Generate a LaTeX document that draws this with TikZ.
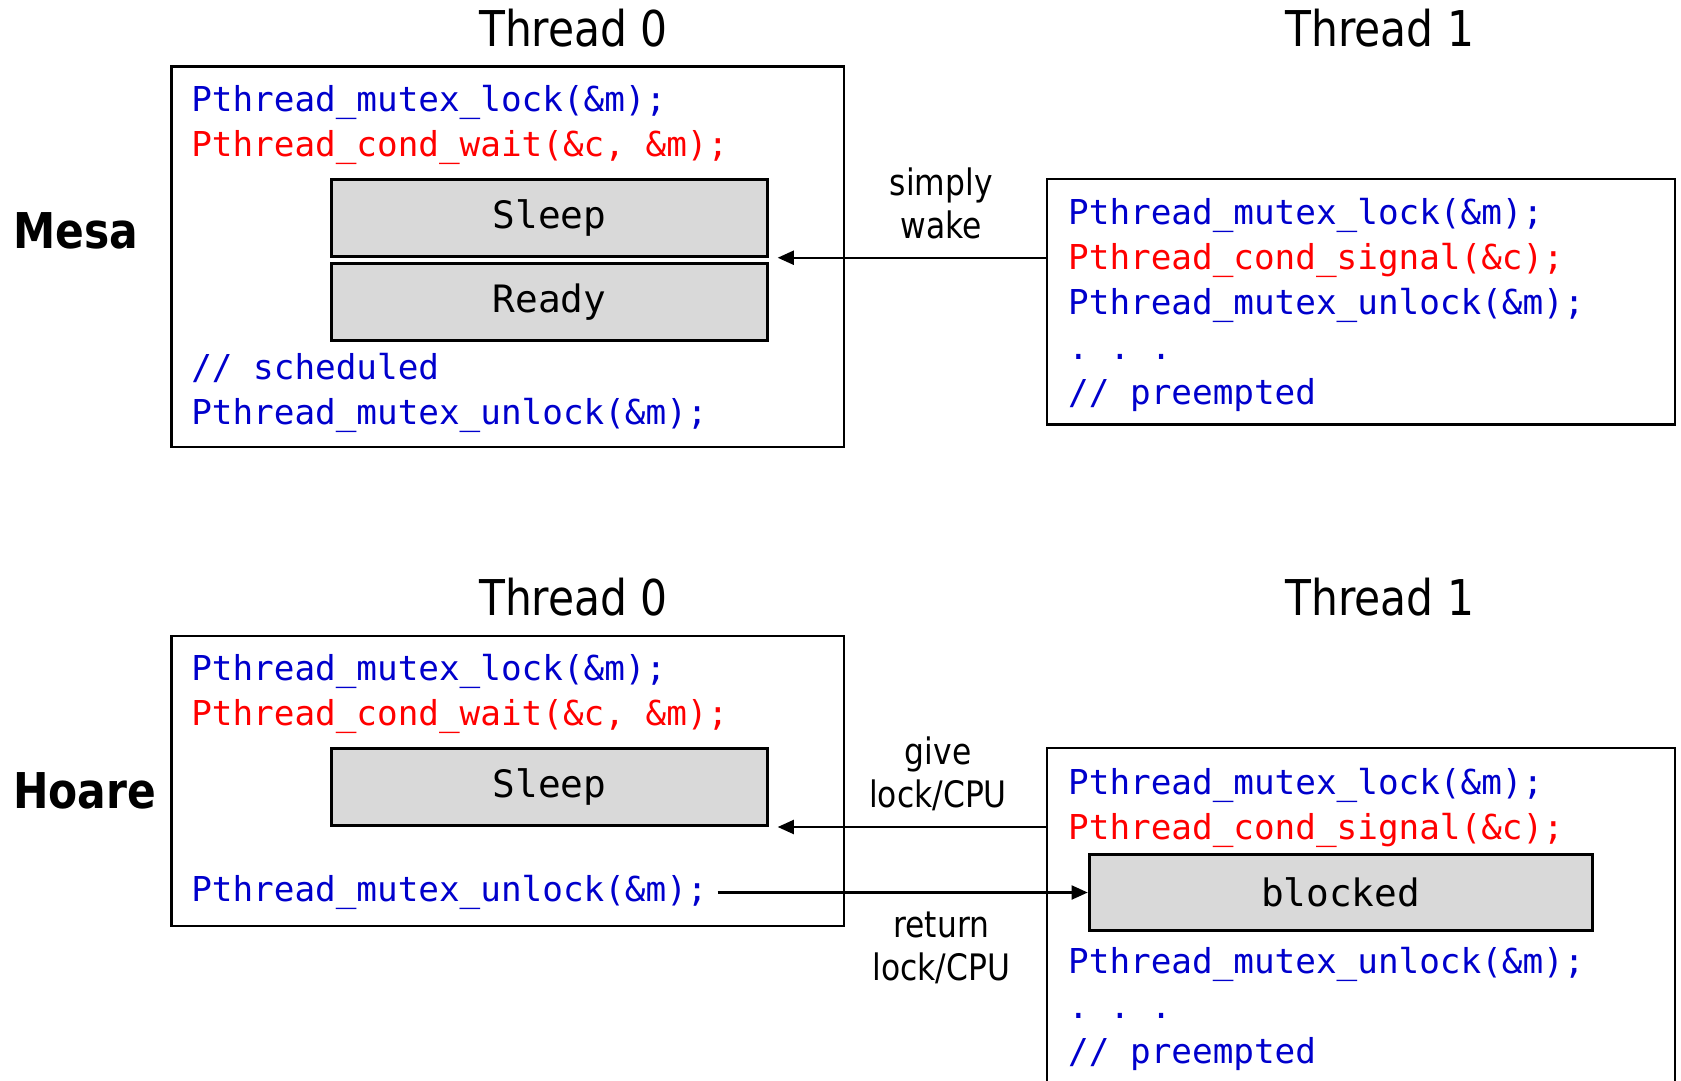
\documentclass[tikz,border=0pt]{standalone}
\usepackage{fontspec}
\setmainfont{DejaVu Sans}[FakeStretch=0.86]
\newfontfamily\codefont{DejaVu Sans Mono}
\usetikzlibrary{arrows.meta,positioning,fit}
\definecolor{codeblue}{RGB}{0,0,204}
\definecolor{codered}{RGB}{255,0,0}
\definecolor{stategray}{RGB}{217,217,217}
\tikzset{threadbox/.style={draw,line width=1pt,inner sep=0pt},
         statebox/.style={draw,line width=1.4pt,fill=stategray,inner sep=0pt},
         statetext/.style={inner sep=0pt,font=\codefont\fontsize{17.6}{21}\selectfont},
         codeline/.style={anchor=base west,inner sep=0pt,text=codeblue,
                          font=\codefont\frenchspacing\fontsize{16}{19}\selectfont},
         hot/.style={text=codered}}
\tikzset{threadlabel/.style={anchor=base,inner sep=0pt,font=\fontsize{23}{27}\selectfont},
         method/.style={anchor=base west,inner sep=0pt,font=\bfseries\fontsize{23}{27}\selectfont},
         note/.style={align=center,inner sep=0pt,font=\fontsize{17}{20}\selectfont},
         flow/.style={line width=1pt,-{Triangle[length=7.5pt,width=6.5pt]}}}

\begin{document}
\begin{tikzpicture}[x=0.5pt,y=-0.5pt]
        \path[use as bounding box,clip] (0,0) rectangle (1568,1008);
        %
        % Mesa
        \node[threadlabel] (thr0m) at (535,43) {Thread 0};
        \node[threadlabel] (thr1m) at (1287,43) {Thread 1};
        \node[method] (mesa) at (12,232) {Mesa};
        \node[threadbox,fit={(160,62) (787,417)}] (t0m) {};
        \node[codeline] (lockM) at (178,104) {Pthread\_mutex\_lock(\&m);};
        \node[codeline,hot] (waitM) at (178,146) {Pthread\_cond\_wait(\&c, \&m);};
        \node[statebox,fit={(309,167) (716,239)},label={[statetext]center:Sleep}] (sleepM) {};
        \node[statebox,fit={(309,246) (716,318)},label={[statetext]center:Ready}] (readyM) {};
        \node[codeline] (schedM) at (178,354) {// scheduled};
        \node[codeline] (unlockM) at (178,396) {Pthread\_mutex\_unlock(\&m);};
        %
        \node[threadbox,fit={(977,167) (1562,396)}] (t1m) {};
        \node[codeline] (lock1M) at (996,209) {Pthread\_mutex\_lock(\&m);};
        \node[codeline,hot] (signalM) at (996,251) {Pthread\_cond\_signal(\&c);};
        \node[codeline] (unlock1M) at (996,293) {Pthread\_mutex\_unlock(\&m);};
        \node[codeline] (dotsM) at (996,335) {. . .};
        \node[codeline] (preM) at (996,377) {// preempted};
        %
        \node[note] (wake) at (878,190) {simply\\wake};
        \draw[flow] (t1m.west |- sleepM.south) -- ([xshift=4pt]sleepM.south east);
        %
        % Hoare
        \node[threadlabel] (thr0h) at (535,574) {Thread 0};
        \node[threadlabel] (thr1h) at (1287,574) {Thread 1};
        \node[method] (hoare) at (12,754) {Hoare};
        \node[threadbox,fit={(160,593) (787,864)}] (t0h) {};
        \node[codeline] (lockH) at (178,635) {Pthread\_mutex\_lock(\&m);};
        \node[codeline,hot] (waitH) at (178,677) {Pthread\_cond\_wait(\&c, \&m);};
        \node[statebox,fit={(309,698) (716,770)},label={[statetext]center:Sleep}] (sleepH) {};
        \node[codeline] (unlockH) at (178,841) {Pthread\_mutex\_unlock(\&m);};
        %
        \node[threadbox,fit={(977,698) (1562,1030)}] (t1h) {};
        \node[codeline] (lock1H) at (996,741) {Pthread\_mutex\_lock(\&m);};
        \node[codeline,hot] (signalH) at (996,783) {Pthread\_cond\_signal(\&c);};
        \node[statebox,fit={(1016,797) (1485,868)},label={[statetext]center:blocked}] (blockedH) {};
        \node[codeline] (unlock1H) at (996,908) {Pthread\_mutex\_unlock(\&m);};
        \node[codeline] (dotsH) at (996,950) {. . .};
        \node[codeline] (preH) at (996,992) {// preempted};
        %
        \node[note] (give) at (875,722) {give\\lock/CPU};
        \node[note] (back) at (878,884) {return\\lock/CPU};
        \draw[flow] (t1h.west |- sleepH.south) -- ([xshift=4pt]sleepH.south east);
        \draw[flow] ([xshift=4.5pt]unlockH.east |- blockedH.west) -- (blockedH.west);
\end{tikzpicture}
\end{document}
